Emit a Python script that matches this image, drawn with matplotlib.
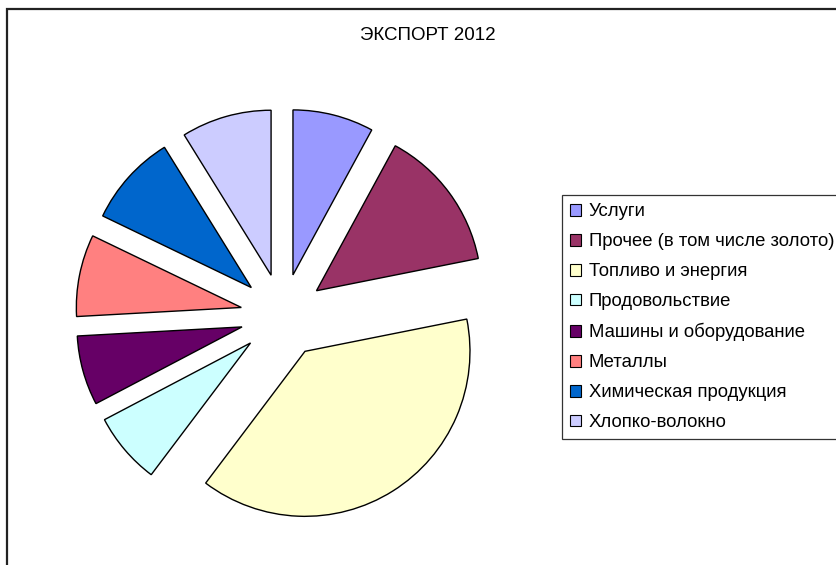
import matplotlib
matplotlib.use("Agg")
import matplotlib.pyplot as plt
from matplotlib.patches import Patch, Rectangle

plt.rcParams['font.family'] = ['Liberation Sans', 'DejaVu Sans']

# export shares 2012, %
labels = ['Услуги', 'Прочее (в том числе золото)', 'Топливо и энергия', 'Продовольствие',
          'Машины и оборудование', 'Металлы', 'Химическая продукция', 'Хлопко-волокно']
values = [7.9, 13.9, 38.3, 7.0, 6.8, 8.0, 9.0, 8.8]
colors = ['#9999FF', '#993366', '#FFFFCC', '#CCFFFF', '#660066', '#FF8080', '#0066CC', '#CCCCFF']
title = 'ЭКСПОРТ 2012'

W, H = 837, 565
fig = plt.figure(figsize=(W / 100, H / 100), dpi=100)

# pie centre and radius in pixels (from top-left)
cx, cy, r = 282.6, 315.7, 165
half = 200
ax = fig.add_axes([(cx - half) / W, (H - cy - half) / H, 2 * half / W, 2 * half / H])
ax.pie(values, colors=colors, startangle=90, counterclock=False,
       explode=[0.255] * len(values),
       wedgeprops=dict(edgecolor='black', linewidth=1.0))
ax.set_xlim(-half / r, half / r)
ax.set_ylim(-half / r, half / r)
ax.set_aspect('auto')

# chart frame (goes off the right and bottom edges)
fig.patches.append(Rectangle((7 / W, -0.1), 1.2, 1.1 - 9 / H, transform=fig.transFigure,
                             fill=False, edgecolor='#222222', linewidth=1.6))

fig.text(428 / W, 1 - 35 / H, title, ha='center', va='center', fontsize=13.5)

handles = [Patch(facecolor=c, edgecolor='black', linewidth=0.8) for c in colors]
leg = fig.legend(handles, labels, loc='upper left', bbox_to_anchor=(562 / W, 1 - 195 / H),
                 bbox_transform=fig.transFigure, borderaxespad=0, fontsize=13.3,
                 handlelength=0.6, handleheight=0.6, handletextpad=0.4,
                 labelspacing=0.7, borderpad=0.45, fancybox=False, frameon=True)
leg.get_frame().set_edgecolor('black')
leg.get_frame().set_linewidth(0.9)

fig.savefig('out.png', dpi=100)
